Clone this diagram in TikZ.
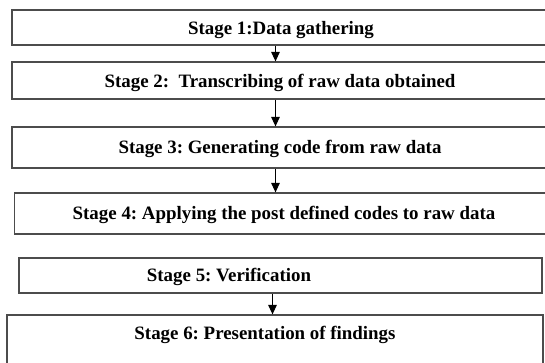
\documentclass[tikz,border=0pt]{standalone}
\usepackage{fontspec}
\setmainfont{Liberation Serif}
\usetikzlibrary{arrows.meta}
\frenchspacing

\tikzset{
  stagebox/.style={draw=black!70, line width=1.2pt, rectangle, inner sep=0pt},
  stagetext/.style={anchor=base, inner sep=0pt, font=\fontsize{18.9}{21}\selectfont\bfseries},
  flow/.style={draw=black, line width=1.1pt, -{Triangle[width=8.5pt,length=9.5pt]}}
}

\begin{document}
\begin{tikzpicture}[x=1pt, y=-1pt]
  \useasboundingbox (0,0) rectangle (545,362);
  \fill[white] (0,0) rectangle (545,362);

  % stage boxes (some run past the right and bottom edge)
  \node[stagebox, minimum width=534pt, minimum height=35pt] (b1) at (279,27.5) {};
  \node[stagebox, minimum width=534pt, minimum height=37pt] (b2) at (279,80.5) {};
  \node[stagebox, minimum width=534pt, minimum height=41pt] (b3) at (279,147.5) {};
  \node[stagebox, minimum width=533pt, minimum height=41pt] (b4) at (281,213.5) {};
  \node[stagebox, minimum width=523pt, minimum height=35pt] (b5) at (280.5,275.5) {};
  \node[stagebox, minimum width=536pt, minimum height=55pt] (b6) at (275,342.5) {};

  % stage labels
  \node[stagetext] (t1) at (281,34) {Stage 1:Data gathering};
  \node[stagetext] (t2) at (280,87) {Stage 2:\ \ Transcribing of raw data obtained};
  \node[stagetext] (t3) at (280,153.5) {Stage 3: Generating code from raw data};
  \node[stagetext] (t4) at (284,219.5) {Stage 4: Applying the post defined codes to raw data};
  \node[stagetext] (t5) at (229,281.5) {Stage 5: Verification};
  \node[stagetext] (t6) at (265,339.5) {Stage 6: Presentation of findings};

  % connectors
  \coordinate (ax) at (275.5,0);
  \coordinate (ay) at (272.5,0);
  \draw[flow] (b1.south -| ax) -- (b2.north -| ax);
  \draw[flow] (b2.south -| ax) -- (b3.north -| ax);
  \draw[flow] (b3.south -| ax) -- (b4.north -| ax);
  \draw[flow] (b5.south -| ay) -- (b6.north -| ay);
\end{tikzpicture}
\end{document}
